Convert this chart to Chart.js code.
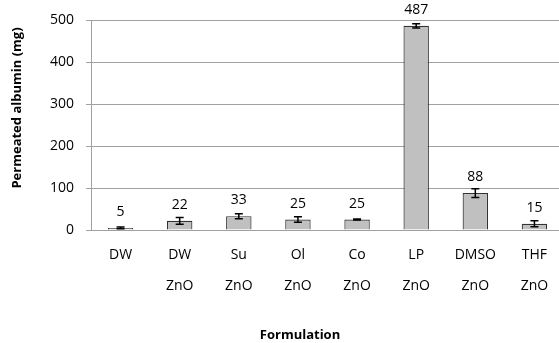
<!DOCTYPE html>
<html>
<head>
<meta charset="utf-8">
<script src="https://cdn.jsdelivr.net/npm/chart.js@4"></script>
<style>
html,body{margin:0;padding:0;background:#fff;overflow:hidden;}
</style>
</head>
<body>
<canvas id="c" width="570" height="343"></canvas>
<script>
const categories = [["DW"], ["DW", "ZnO"], ["Su", "ZnO"], ["Ol", "ZnO"], ["Co", "ZnO"], ["LP", "ZnO"], ["DMSO", "ZnO"], ["THF", "ZnO"]];
const values = [5, 22, 33, 25, 25, 487, 88, 15];
const errors = [2, 8, 6, 6.5, 1, 5, 10.5, 7];
const yTicks = [0, 100, 200, 300, 400, 500];
const xTitle = 'Formulation';
const yTitle = 'Permeated albumin (mg)';

const FONT = "'Open Sans', sans-serif";

const extras = {
  id: 'extras',
  afterDatasetsDraw(chart) {
    const ctx = chart.ctx;
    const meta = chart.getDatasetMeta(0);
    const ys = chart.scales.y;
    ctx.save();
    meta.data.forEach((bar, i) => {
      const x = bar.x;
      const top = ys.getPixelForValue(values[i] + errors[i]);
      const bot = ys.getPixelForValue(values[i] - errors[i]);
      ctx.strokeStyle = '#000';
      ctx.lineWidth = 1.5;
      ctx.beginPath();
      ctx.moveTo(x, top); ctx.lineTo(x, bot);
      ctx.moveTo(x - 4, top); ctx.lineTo(x + 4, top);
      ctx.moveTo(x - 4, bot); ctx.lineTo(x + 4, bot);
      ctx.stroke();
      ctx.fillStyle = '#000';
      ctx.font = "14px " + FONT;
      ctx.textAlign = 'center';
      ctx.textBaseline = 'middle';
      ctx.fillText(String(values[i]), x, bar.y - 16);
    });
    // axis titles
    ctx.font = "bold 13px " + FONT;
    ctx.fillStyle = '#000';
    ctx.textAlign = 'center';
    ctx.textBaseline = 'middle';
    ctx.fillText(xTitle, 300, 335);
    ctx.translate(17, 108);
    ctx.rotate(-Math.PI / 2);
    ctx.fillText(yTitle, 0, 0);
    ctx.restore();
  }
};

new Chart(document.getElementById('c'), {
  type: 'bar',
  data: {
    labels: categories,
    datasets: [{
      data: values,
      backgroundColor: '#c0c0c0',
      borderColor: '#333333',
      borderWidth: 1.2,
      barPercentage: 0.43,
      categoryPercentage: 1.0
    }]
  },
  options: {
    responsive: false,
    devicePixelRatio: 1,
    animation: false,
    layout: { padding: { left: 0, right: 6, top: 20, bottom: 0 } },
    plugins: { legend: { display: false }, tooltip: { enabled: false } },
    scales: {
      x: {
        grid: { display: false, drawTicks: false },
        border: { color: '#a0a0a0' },
        ticks: { color: '#000', font: { family: FONT, size: 14, lineHeight: 2.2 }, padding: 10, maxRotation: 0, autoSkip: false },
        afterFit(s) { s.height = 113; }
      },
      y: {
        min: 0, max: 500,
        afterBuildTicks(s) { s.ticks = yTicks.map(v => ({ value: v })); },
        grid: { color: '#a0a0a0', tickLength: 5, lineWidth: 1 },
        border: { color: '#a0a0a0' },
        ticks: { color: '#000', font: { family: FONT, size: 14 }, padding: 12 },
        afterFit(s) { s.width = 91; }
      }
    }
  },
  plugins: [extras]
});
</script>
</body>
</html>
